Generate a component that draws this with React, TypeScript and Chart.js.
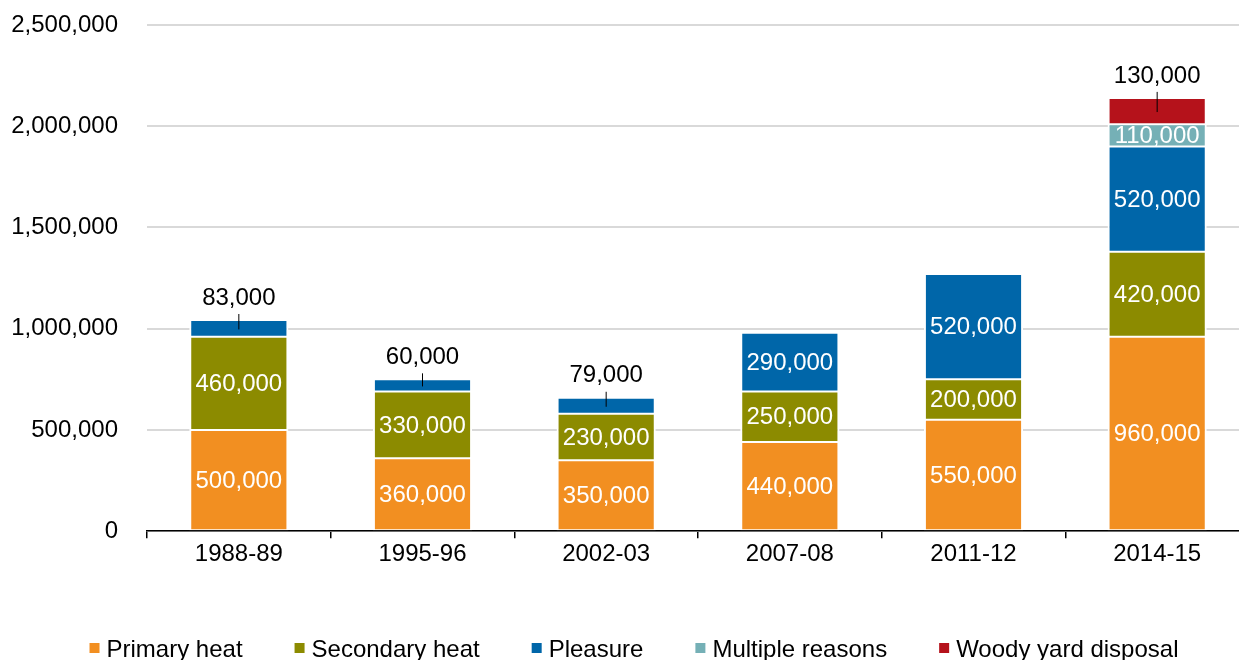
import React, { useEffect, useRef } from "react";
import { Chart, registerables } from "chart.js";

Chart.register(...registerables);

const categories = ["1988-89", "1995-96", "2002-03", "2007-08", "2011-12", "2014-15"];
const primaryHeat = [500000, 360000, 350000, 440000, 550000, 960000];
const secondaryHeat = [460000, 330000, 230000, 250000, 200000, 420000];
const pleasure = [83000, 60000, 79000, 290000, 520000, 520000];
const multipleReasons = [null, null, null, null, null, 110000];
const woodyYardDisposal = [null, null, null, null, null, 130000];

const seriesNames = ["Primary heat", "Secondary heat", "Pleasure", "Multiple reasons", "Woody yard disposal"];
const seriesData = [primaryHeat, secondaryHeat, pleasure, multipleReasons, woodyYardDisposal];
const seriesColors = ["#F28F21", "#8C8B00", "#0066A9", "#75B0B6", "#B5121B"];

const yMin = 0;
const yMax = 2500000;
const yStep = 500000;

const FONT = "'Liberation Sans', Arial, sans-serif";
const fmt = (v: number) => v.toLocaleString("en-US");

const labelPlugin = {
  id: "segmentLabels",
  afterDatasetsDraw(chart: any) {
    const ctx = chart.ctx;
    const n = chart.data.datasets.length;
    ctx.save();
    ctx.font = `24px ${FONT}`;
    ctx.textAlign = "center";
    ctx.textBaseline = "middle";
    for (let i = 0; i < n; i++) {
      const meta = chart.getDatasetMeta(i);
      const data = chart.data.datasets[i].data;
      meta.data.forEach((el: any, j: number) => {
        const v = data[j];
        if (v === null || v === undefined) return;
        let isTop = true;
        for (let k = i + 1; k < n; k++) {
          const w = chart.data.datasets[k].data[j];
          if (w !== null && w !== undefined) isTop = false;
        }
        const top = Math.min(el.y, el.base);
        const bottom = Math.max(el.y, el.base);
        const mid = (top + bottom) / 2;
        if (isTop && v < 150000) {
          ctx.strokeStyle = "#000";
          ctx.lineWidth = 1;
          ctx.beginPath();
          ctx.moveTo(el.x, mid + 1);
          ctx.lineTo(el.x, top - 6);
          ctx.stroke();
          ctx.fillStyle = "#000";
          ctx.fillText(fmt(v), el.x, top - 22);
        } else {
          ctx.fillStyle = "#fff";
          ctx.fillText(fmt(v), el.x, mid + 1);
        }
      });
    }
    ctx.restore();
  },
};

const legendPlugin = {
  id: "bottomLegend",
  afterDraw(chart: any) {
    const ctx = chart.ctx;
    ctx.save();
    ctx.font = `24px ${FONT}`;
    ctx.textAlign = "left";
    ctx.textBaseline = "alphabetic";
    const box = 10;
    const boxGap = 7;
    const itemGap = 52;
    const items = chart.data.datasets.map((d: any) => ({
      label: d.label,
      color: d.backgroundColor,
      w: ctx.measureText(d.label).width,
    }));
    const total = items.reduce((s: number, it: any) => s + box + boxGap + it.w, 0) + itemGap * (items.length - 1);
    let x = 634 - total / 2;
    const baseline = chart.height - 3.5;
    const boxTop = chart.height - 17;
    items.forEach((it: any) => {
      ctx.fillStyle = it.color;
      ctx.fillRect(x, boxTop, box, box);
      x += box + boxGap;
      ctx.fillStyle = "#000";
      ctx.fillText(it.label, x, baseline);
      x += it.w + itemGap;
    });
    ctx.restore();
  },
};

export default function App() {
  const canvasRef = useRef<HTMLCanvasElement | null>(null);

  useEffect(() => {
    if (!canvasRef.current) return;
    const chart = new Chart(canvasRef.current, {
      type: "bar",
      data: {
        labels: categories,
        datasets: seriesNames.map((name, i) => ({
          label: name,
          data: seriesData[i],
          backgroundColor: seriesColors[i],
          borderColor: "#ffffff",
          borderWidth: { top: 1, bottom: 1, left: 2, right: 2 },
          borderSkipped: false,
          barPercentage: 0.54,
          categoryPercentage: 1,
        })),
      },
      options: {
        animation: false,
        responsive: true,
        maintainAspectRatio: false,
        layout: { padding: { left: 0, right: 1, top: 25, bottom: 89 } },
        plugins: {
          legend: { display: false },
          tooltip: { enabled: false },
        },
        scales: {
          x: {
            stacked: true,
            grid: {
              display: true,
              drawOnChartArea: false,
              drawTicks: true,
              tickLength: 7,
              color: "#000",
              lineWidth: 1.5,
            },
            border: { display: true, color: "#000", width: 1.5 },
            ticks: {
              color: "#000",
              padding: 2,
              font: { family: FONT, size: 24 },
              maxRotation: 0,
            },
          },
          y: {
            stacked: true,
            min: yMin,
            max: yMax,
            afterFit: (scale: any) => {
              scale.width = 147;
              scale.paddingTop = 0;
              scale.paddingBottom = 0;
            },
            grid: { color: "#d9d9d9", lineWidth: 2, drawTicks: false },
            border: { display: false },
            ticks: {
              stepSize: yStep,
              color: "#000",
              padding: 29,
              font: { family: FONT, size: 24 },
              callback: (v: any) => fmt(Number(v)),
            },
          },
        },
      },
      plugins: [labelPlugin, legendPlugin],
    });
    return () => chart.destroy();
  }, []);

  return (
    <div style={{ position: "fixed", left: 0, top: 0, width: 1250, height: 660, background: "#fff" }}>
      <canvas ref={canvasRef} />
    </div>
  );
}
